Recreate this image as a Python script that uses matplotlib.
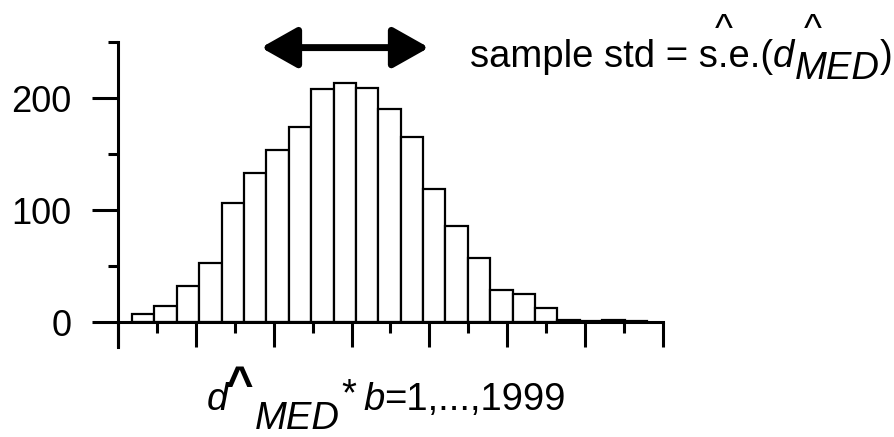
import matplotlib
matplotlib.use('Agg')
import matplotlib.pyplot as plt
from matplotlib.ticker import MultipleLocator
import numpy as np

# bootstrap counts of d_MED* per bin, b = 1..1999
counts = [7, 15, 32, 53, 106, 133, 154, 174, 208, 213, 209, 190, 165,
          119, 86, 57, 29, 25, 13, 2, 1, 2, 1]
yticks = [0, 100, 200]

bin_start = 0.18
bin_width = 0.2876

plt.rcParams['font.family'] = ['Liberation Sans', 'DejaVu Sans']
FS = 27.5
W, H = 895, 437

fig = plt.figure(figsize=(W / 100, H / 100), dpi=100)
ax = fig.add_axes([118 / W, 1 - 347 / H, (663 - 118) / W, (347 - 42) / H])

lefts = bin_start + bin_width * np.arange(len(counts))
ax.bar(lefts, counts, width=bin_width, align='edge', color='white',
       edgecolor='black', linewidth=1.6, zorder=2)

ax.set_xlim(0, 7)
ax.set_ylim(-22, 250)
for side in ['top', 'right']:
    ax.spines[side].set_visible(False)
ax.spines['bottom'].set_position(('data', 0))
ax.spines['bottom'].set_zorder(3)
for side in ['left', 'bottom']:
    ax.spines[side].set_linewidth(2.2)

ax.xaxis.set_major_locator(MultipleLocator(1))
ax.xaxis.set_minor_locator(MultipleLocator(0.5))
ax.set_yticks(yticks)
ax.yaxis.set_minor_locator(MultipleLocator(50))
ax.tick_params(axis='x', which='major', length=18, width=2.2, labelbottom=False)
ax.tick_params(axis='x', which='minor', length=8, width=2.2)
ax.tick_params(axis='y', which='major', length=19, width=2.2, pad=14.5, labelsize=26)
ax.tick_params(axis='y', which='minor', length=7.5, width=2.2)

# double arrow marking the spread of the bootstrap distribution
ax.annotate('', xy=(3.994, 245), xytext=(1.837, 245),
            arrowprops=dict(arrowstyle='<|-|>,head_length=1.1,head_width=0.62',
                            lw=5, color='black', mutation_scale=20,
                            shrinkA=0, shrinkB=0),
            annotation_clip=False)

renderer = fig.canvas.get_renderer()


def put(s, x, y, style='normal', weight='normal', size=FS, ha='left'):
    t = fig.text(x / 100, (H - y) / 100, s, transform=fig.dpi_scale_trans,
                 fontsize=size, style=style, weight=weight, ha=ha, va='baseline')
    return t.get_window_extent(renderer).width


def runs(parts, x, y):
    for s, style, dy in parts:
        x += put(s, x, y + dy, style=style)


runs([('sample std = s.e.(', 'normal', 0), ('d', 'italic', 0),
      ('MED', 'italic', 12), (')', 'normal', 0)], 470, 67)
put('^', 724, 41, ha='center')
put('^', 813, 41, ha='center')

put('d', 207, 410, style='italic')
put('MED', 255, 429, style='italic')
put('*', 341, 405)
runs([('b', 'italic', 0), ('=1,...,1999', 'normal', 0)], 363, 410)
put('^', 240, 399, weight='bold', size=34, ha='center')

fig.savefig('out.png', dpi=100)
